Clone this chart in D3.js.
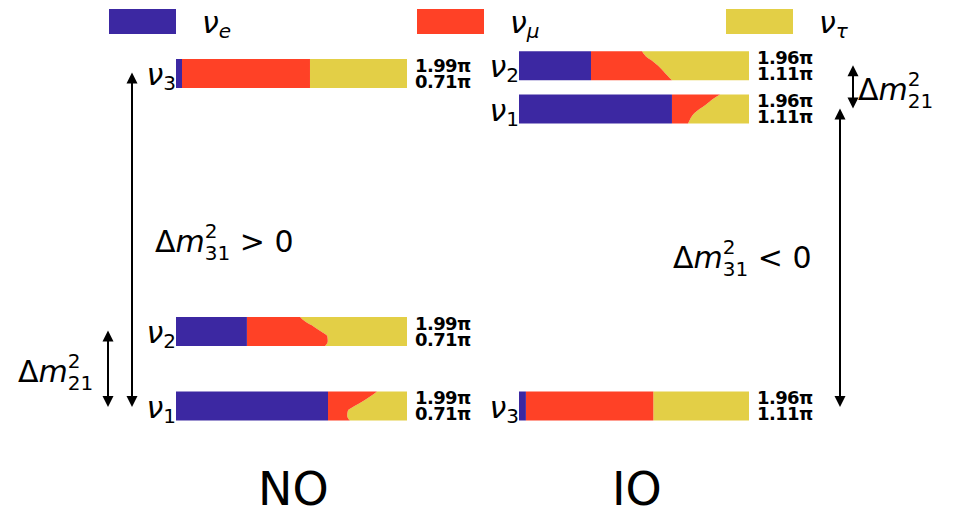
<!DOCTYPE html>
<html><head><meta charset="utf-8">
<script src="https://cdn.jsdelivr.net/npm/d3@7"></script>
<style>
html,body{margin:0;padding:0;background:#fff;}
text{font-family:"DejaVu Sans",sans-serif;fill:#000;}
</style></head>
<body><svg id="c" width="953" height="509"></svg>
<script>
// ---------- data ----------
const flavors = ["e", "μ", "τ"];
const flavorColors = ["#3c28a2", "#ff4126", "#e3cf46"];
const orderings = ["NO", "IO"];
const massStates = ["1", "2", "3"];
// schematic level of each mass state (0 = lowest, 1 = highest)
const levelNO = [0.0, 0.224, 1.0];
const levelIO = [0.893, 1.023, 0.0];
// |U_ei|^2 per mass state
const ueNO = [0.658, 0.307, 0.026];
const ueIO = [0.665, 0.313, 0.030];
// cumulative |U_ei|^2+|U_mui|^2 sampled from top (delta max) to bottom (delta min)
const deltaSteps = [0, 1, 2, 3, 4, 5, 6];
const emuNO1 = [0.870, 0.842, 0.809, 0.773, 0.744, 0.741, 0.753];
const emuNO2 = [0.537, 0.561, 0.597, 0.628, 0.655, 0.657, 0.645];
const emuNO3 = [0.580, 0.580, 0.580, 0.580, 0.580, 0.580, 0.580];
const emuIO1 = [0.874, 0.840, 0.815, 0.785, 0.759, 0.745, 0.735];
const emuIO2 = [0.535, 0.551, 0.580, 0.605, 0.626, 0.645, 0.665];
const emuIO3 = [0.584, 0.584, 0.584, 0.584, 0.584, 0.584, 0.584];
const deltaLabelsNO = ["1.99π", "0.71π"];
const deltaLabelsIO = ["1.96π", "1.11π"];

// ---------- drawing ----------
const svg = d3.select("#c");
const barH = 29;
const yLevel = d3.scaleLinear().domain([0, 1]).range([406, 73.5]);
const panels = [
  {name: "NO", x0: 176, x1: 407, level: levelNO, ue: ueNO, emu: [emuNO1, emuNO2, emuNO3], dl: deltaLabelsNO},
  {name: "IO", x0: 519, x1: 749, level: levelIO, ue: ueIO, emu: [emuIO1, emuIO2, emuIO3], dl: deltaLabelsIO}
];

// legend
const legX = [109, 417, 726];
flavors.forEach((f, i) => {
  svg.append("rect").attr("x", legX[i]).attr("y", 9).attr("width", 67).attr("height", 25).attr("fill", flavorColors[i]);
  const t = svg.append("text").attr("x", legX[i] + 93).attr("y", 33).attr("font-size", 30);
  t.append("tspan").attr("font-style", "italic").text("ν");
  t.append("tspan").attr("font-size", 20).attr("font-style", "italic").attr("dy", 5).text(f);
});

function mathLabel(x, y, sub, tail) {
  const t = svg.append("text").attr("x", x).attr("y", y).attr("font-size", 30);
  t.append("tspan").text("Δ");
  t.append("tspan").attr("font-style", "italic").text("m");
  t.append("tspan").attr("font-size", 20).attr("dy", -14).text("2");
  t.append("tspan").attr("font-size", 20).attr("dx", -12.7).attr("dy", 22).text(sub);
  if (tail) t.append("tspan").attr("dy", -8).text(tail);
}

function arrow(x, y1, y2) {
  const hl = 11, hw = 5.5;
  svg.append("line").attr("x1", x).attr("x2", x).attr("y1", y1 + hl - 1).attr("y2", y2 - hl + 1)
    .attr("stroke", "#000").attr("stroke-width", 2);
  svg.append("path").attr("d", `M${x},${y1}L${x - hw},${y1 + hl}L${x + hw},${y1 + hl}Z`).attr("fill", "#000");
  svg.append("path").attr("d", `M${x},${y2}L${x - hw},${y2 - hl}L${x + hw},${y2 - hl}Z`).attr("fill", "#000");
}

panels.forEach(p => {
  const x = d3.scaleLinear().domain([0, 1]).range([p.x0, p.x1]);
  massStates.forEach((m, i) => {
    const yc = yLevel(p.level[i]);
    const top = yc - barH / 2, bot = yc + barH / 2;
    const yt = d3.scaleLinear().domain([deltaSteps[0], deltaSteps[deltaSteps.length - 1]]).range([top, bot]);
    const rows = deltaSteps.map((d, k) => ({d, e: p.ue[i], emu: p.emu[i][k]}));
    const area = (a, b) => d3.area().curve(d3.curveMonotoneY).y(r => yt(r.d)).x0(r => x(a(r))).x1(r => x(b(r)));
    svg.append("path").datum(rows).attr("fill", flavorColors[2]).attr("d", area(r => r.emu, () => 1)(rows));
    svg.append("path").datum(rows).attr("fill", flavorColors[1]).attr("d", area(r => r.e, r => r.emu)(rows));
    svg.append("path").datum(rows).attr("fill", flavorColors[0]).attr("d", area(() => 0, r => r.e)(rows));
    // mass state label
    const t = svg.append("text").attr("x", p.x0).attr("y", bot - 3).attr("font-size", 30).attr("text-anchor", "end");
    t.append("tspan").attr("font-style", "italic").text("ν");
    t.append("tspan").attr("font-size", 20).attr("dy", 5).text(m);
    // delta labels
    svg.append("text").attr("x", p.x1 + 8).attr("y", yc - 2).attr("font-size", 18).attr("font-weight", "bold")
      .attr("letter-spacing", -0.6).text(p.dl[0]);
    svg.append("text").attr("x", p.x1 + 8).attr("y", yc + 14).attr("font-size", 18).attr("font-weight", "bold")
      .attr("letter-spacing", -0.6).text(p.dl[1]);
  });
});

// arrows
arrow(132, yLevel(levelNO[2]) - 1, yLevel(levelNO[0]) + 1);
arrow(108, yLevel(levelNO[1]) - 1, yLevel(levelNO[0]) + 1);
arrow(853, yLevel(levelIO[1]) - 0.5, yLevel(levelIO[0]) - 0.5);
arrow(840, yLevel(levelIO[0]) - 0.5, yLevel(levelIO[2]) + 1);

mathLabel(18, 382, "21");
mathLabel(155, 252, "31", " > 0");
mathLabel(858, 100, "21");
mathLabel(673, 268, "31", " < 0");

svg.append("text").attr("x", 258).attr("y", 505).attr("font-size", 46).text(orderings[0]);
svg.append("text").attr("x", 612).attr("y", 505).attr("font-size", 46).text(orderings[1]);
</script></body></html>
